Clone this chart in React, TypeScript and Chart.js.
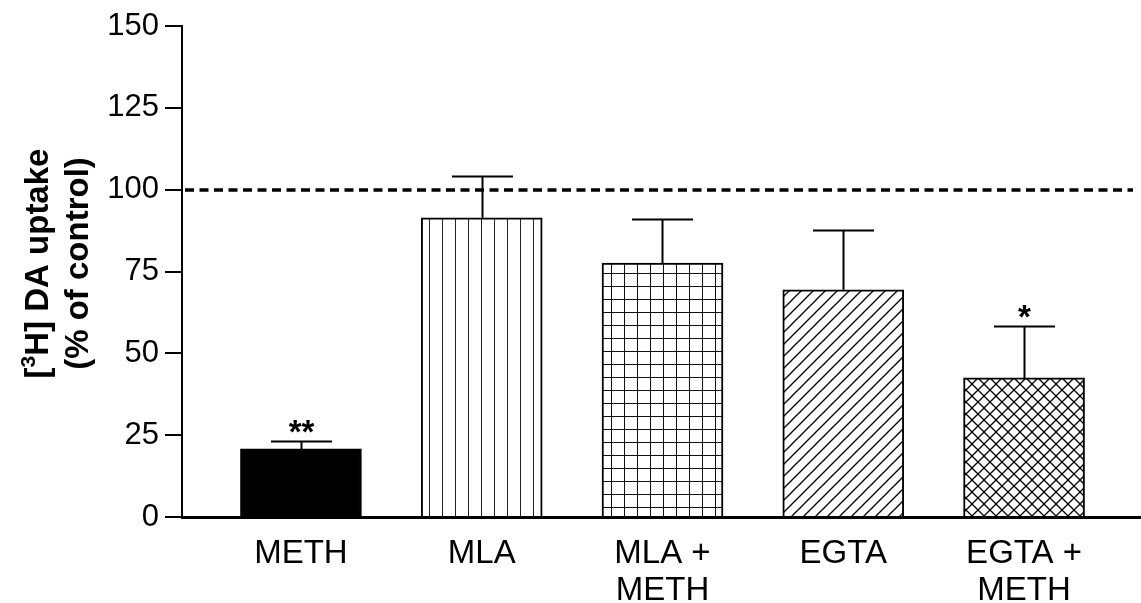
import React, { useEffect, useRef } from 'react';
import { Chart, registerables } from 'chart.js';
Chart.register(...registerables);

const categories: string[][] = [['METH'], ['MLA'], ['MLA +', 'METH'], ['EGTA'], ['EGTA +', 'METH']];
const means: number[] = [20.8, 91.4, 77.6, 69.4, 42.5];
const sems: number[] = [2.4, 12.8, 13.4, 18.3, 15.9];
const significance: string[] = ['**', '', '', '', '*'];
const fills: string[] = ['solid', 'vertical', 'grid', 'diagonal', 'crosshatch'];
const yMin = 0;
const yMax = 150;
const yStep = 25;
const controlLevel = 100;
// y-axis title: line 1 is written as [ + superscript 3 + "H] DA uptake"
const yTitleLine1: string[] = ['[', '3', 'H] DA uptake'];
const yTitleLine2 = '(% of control)';

const FONT = '"Liberation Sans", Arial, sans-serif';

function makeFill(kind: string): string | CanvasPattern {
  if (kind === 'solid') return '#000';
  const c = document.createElement('canvas');
  const ctx = c.getContext('2d')!;
  if (kind === 'vertical') {
    c.width = 13; c.height = 13;
    ctx.fillStyle = '#fff'; ctx.fillRect(0, 0, 13, 13);
    ctx.fillStyle = '#222'; ctx.fillRect(0, 0, 1, 13);
  } else if (kind === 'grid') {
    c.width = 13; c.height = 13;
    ctx.fillStyle = '#fff'; ctx.fillRect(0, 0, 13, 13);
    ctx.fillStyle = '#111'; ctx.fillRect(0, 0, 1, 13); ctx.fillRect(0, 0, 13, 1);
  } else {
    const s = 12;
    c.width = s; c.height = s;
    ctx.fillStyle = '#fff'; ctx.fillRect(0, 0, s, s);
    ctx.strokeStyle = '#000'; ctx.lineWidth = 1.3;
    const drawSlash = () => {
      for (const o of [-s, 0, s]) {
        ctx.beginPath(); ctx.moveTo(o - 1, s + 1); ctx.lineTo(o + s + 1, -1); ctx.stroke();
      }
    };
    const drawBack = () => {
      for (const o of [-s, 0, s]) {
        ctx.beginPath(); ctx.moveTo(o - 1, -1); ctx.lineTo(o + s + 1, s + 1); ctx.stroke();
      }
    };
    drawSlash();
    if (kind === 'crosshatch') drawBack();
  }
  return ctx.createPattern(c, 'repeat')!;
}

const overlayPlugin = {
  id: 'overlay',
  afterDatasetsDraw(chart: any) {
    const { ctx, chartArea, scales } = chart;
    const x = scales.x; const y = scales.y;
    ctx.save();
    ctx.strokeStyle = '#000';
    ctx.lineWidth = 3.5;
    ctx.setLineDash([9, 5.5]);
    ctx.beginPath();
    const yc = Math.round(y.getPixelForValue(controlLevel));
    ctx.moveTo(chartArea.left + 3, yc);
    ctx.lineTo(chartArea.right - 8, yc);
    ctx.stroke();
    ctx.setLineDash([]);
    ctx.lineWidth = 2;
    means.forEach((m, i) => {
      const cx = Math.round(x.getPixelForValue(i)) + 0.5;
      const yb = y.getPixelForValue(m);
      const yt = Math.round(y.getPixelForValue(m + sems[i])) + 0.5;
      ctx.beginPath();
      ctx.moveTo(cx, yb); ctx.lineTo(cx, yt);
      ctx.moveTo(cx - 30.5, yt); ctx.lineTo(cx + 30.5, yt);
      ctx.stroke();
      if (significance[i]) {
        ctx.fillStyle = '#000';
        ctx.font = `bold 33px ${FONT}`;
        ctx.textAlign = 'center';
        ctx.textBaseline = 'alphabetic';
        ctx.fillText(significance[i], cx, yt + 1);
      }
    });
    ctx.restore();
  },
  afterDraw(chart: any) {
    const { ctx, chartArea } = chart;
    const cy = (chartArea.top + chartArea.bottom) / 2 - 8;
    const big = `bold 33px ${FONT}`;
    const small = `bold 21px ${FONT}`;
    ctx.save();
    ctx.fillStyle = '#000';
    ctx.textBaseline = 'alphabetic';
    ctx.textAlign = 'left';
    // line 1
    ctx.save();
    ctx.translate(48, cy);
    ctx.rotate(-Math.PI / 2);
    ctx.font = big; const w0 = ctx.measureText(yTitleLine1[0]).width;
    ctx.font = small; const w1 = ctx.measureText(yTitleLine1[1]).width;
    ctx.font = big; const w2 = ctx.measureText(yTitleLine1[2]).width;
    let px = -(w0 + w1 + w2) / 2;
    ctx.font = big; ctx.fillText(yTitleLine1[0], px, 0); px += w0;
    ctx.font = small; ctx.fillText(yTitleLine1[1], px, -13); px += w1;
    ctx.font = big; ctx.fillText(yTitleLine1[2], px, 0);
    ctx.restore();
    // line 2
    ctx.save();
    ctx.translate(88, cy);
    ctx.rotate(-Math.PI / 2);
    ctx.font = big;
    ctx.textAlign = 'center';
    ctx.fillText(yTitleLine2, 0, 0);
    ctx.restore();
    ctx.restore();
  },
};

export default function App() {
  const ref = useRef<HTMLCanvasElement | null>(null);
  useEffect(() => {
    document.body.style.margin = '0';
    const canvas = ref.current!;
    const chart = new Chart(canvas, {
      type: 'bar',
      data: {
        datasets: [
          {
            data: means.map((v, i) => ({ x: i, y: v })),
            backgroundColor: fills.map(makeFill) as any,
            borderColor: '#000',
            borderWidth: 2,
            barThickness: 121,
          } as any,
        ],
      },
      options: {
        animation: false,
        responsive: true,
        maintainAspectRatio: false,
        layout: { padding: { top: 26, right: 0, left: 0, bottom: 0 } },
        plugins: { legend: { display: false }, tooltip: { enabled: false } },
        scales: {
          x: {
            type: 'linear',
            offset: false,
            min: -0.658,
            max: 4.647,
            afterBuildTicks: (axis: any) => {
              axis.ticks = categories.map((_, i) => ({ value: i }));
            },
            afterFit: (s: any) => { s.height = 86; },
            grid: { display: false },
            border: { display: true, color: '#000', width: 3 },
            ticks: {
              autoSkip: false,
              maxRotation: 0,
              padding: 10,
              color: '#000',
              font: { family: FONT, size: 33, lineHeight: 1.12 },
              callback: (v: any) => categories[Math.round(Number(v))] as any,
            },
          },
          y: {
            min: yMin,
            max: yMax,
            afterFit: (s: any) => { s.width = 182; },
            ticks: {
              stepSize: yStep,
              padding: 6,
              color: '#000',
              font: { family: FONT, size: 31 },
            },
            grid: { drawOnChartArea: false, tickLength: 17, color: '#000', lineWidth: 2 },
            border: { display: true, color: '#000', width: 2 },
            title: { display: false },
          },
        },
      } as any,
      plugins: [overlayPlugin],
    });
    return () => chart.destroy();
  }, []);
  return (
    <div style={{ width: 1141, height: 603, position: 'relative', background: '#fff' }}>
      <canvas ref={ref} />
    </div>
  );
}
